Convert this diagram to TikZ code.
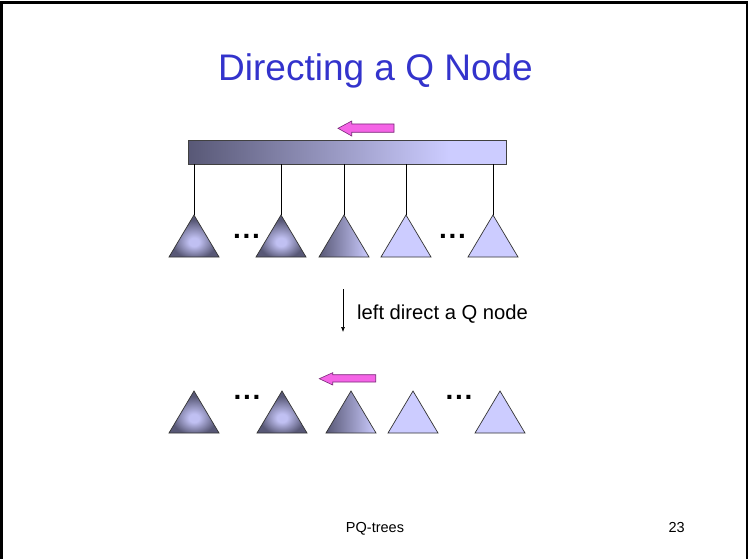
\documentclass[tikz,border=0pt]{standalone}
\usepackage{fontspec}
\setmainfont{Liberation Sans}
\usetikzlibrary{arrows.meta}
\definecolor{qdark}{RGB}{88,88,118}
\definecolor{qlight}{RGB}{204,204,255}
\definecolor{tlight}{RGB}{192,192,242}
\definecolor{titleblue}{RGB}{51,51,204}
\definecolor{pinkfill}{RGB}{245,100,230}
\definecolor{pinkedge}{RGB}{120,40,120}
\pgfdeclarehorizontalshading{barshade}{100bp}{color(0bp)=(qdark); color(25bp)=(qdark); color(66bp)=(qlight); color(100bp)=(qlight)}
\pgfdeclareradialshading{trishade}{\pgfpoint{0bp}{-8bp}}{color(0bp)=(tlight); color(5bp)=(tlight); color(23bp)=(qdark); color(50bp)=(qdark)}
\tikzset{
  tri/.style={draw=black!80, line width=0.7pt, line join=miter},
  trirad/.style={tri, shading=trishade},
  trihor/.style={tri, left color=qdark, right color=qlight},
  triflat/.style={tri, fill=qlight},
  conn/.style={draw=black, line width=0.8pt},
  pinkarrow/.style={fill=pinkfill, draw=pinkedge, line width=0.6pt, line join=miter},
  dots/.style={font=\fontsize{28}{30}\selectfont\bfseries, inner sep=0pt, anchor=base},
}
\newcommand{\mytri}[4]{% name, apex x, apex y, style
  \coordinate (#1) at (#2,#3);
  \path[#4] (#1) -- ++(25,42) -- ++(-50,0) -- cycle;
}
\newcommand{\threedots}{.\kern1.8pt.\kern1.8pt.}
\begin{document}
\begin{tikzpicture}[x=1pt,y=-1pt]
\useasboundingbox (0,0) rectangle (749,559);
\fill[white] (0,0) rectangle (749,559);
\draw[line width=2.5pt] (1.5,565) -- (1.5,2.5) -- (747,2.5) -- (747,565);

% title
\node[font=\fontsize{37}{44}\selectfont, text=titleblue, anchor=base, inner sep=0pt] (title) at (375.5,81) {Directing a Q Node};

% top Q node bar
\node[rectangle, minimum width=318pt, minimum height=24pt, inner sep=0pt, shading=barshade, draw=black!75, line width=0.6pt] (bar) at (347,152) {};
\path[pinkarrow] (338,128.3) -- (351.7,121) -- (351.7,124) -- (394,124) -- (394,132.3) -- (351.7,132.3) -- (351.7,136) -- cycle;

% top row triangles
\mytri{t1}{194}{215}{trirad}
\mytri{t2}{281}{215}{trirad}
\mytri{t3}{344}{215}{trihor}
\mytri{t4}{406}{215}{triflat}
\mytri{t5}{493}{215}{triflat}
\foreach \t in {t1,t2,t3,t4,t5} \draw[conn] (bar.south -| \t) -- (\t);
\node[dots] (d1) at (246.5,238) {\threedots};
\node[dots] (d2) at (452.5,238) {\threedots};

% transformation arrow
\coordinate (a1) at (343,289);
\coordinate (a2) at (343,332);
\draw[line width=0.6pt, -{Latex[length=5pt,width=4pt]}] (a1) -- (a2);
\node[font=\fontsize{20.2}{23}\selectfont, anchor=base west, inner sep=0pt] (lbl) at (357,319) {left direct a Q node};

% bottom row
\path[pinkarrow] (319.3,378.7) -- (332.7,372.7) -- (332.7,374.7) -- (375.7,374.7) -- (375.7,382) -- (332.7,382) -- (332.7,385) -- cycle;
\mytri{b1}{194}{391}{trirad}
\mytri{b2}{282}{391}{trirad}
\mytri{b3}{351}{391}{trihor}
\mytri{b4}{413}{391}{triflat}
\mytri{b5}{500}{391}{triflat}
\node[dots] (d3) at (247,399) {\threedots};
\node[dots] (d4) at (459,399) {\threedots};

% footer
\node[font=\fontsize{14.5}{17}\selectfont, anchor=base, inner sep=0pt] (foot) at (375,532) {PQ-trees};
\node[font=\fontsize{14.5}{17}\selectfont, anchor=base east, inner sep=0pt] (page) at (685,532) {23};
\end{tikzpicture}
\end{document}
